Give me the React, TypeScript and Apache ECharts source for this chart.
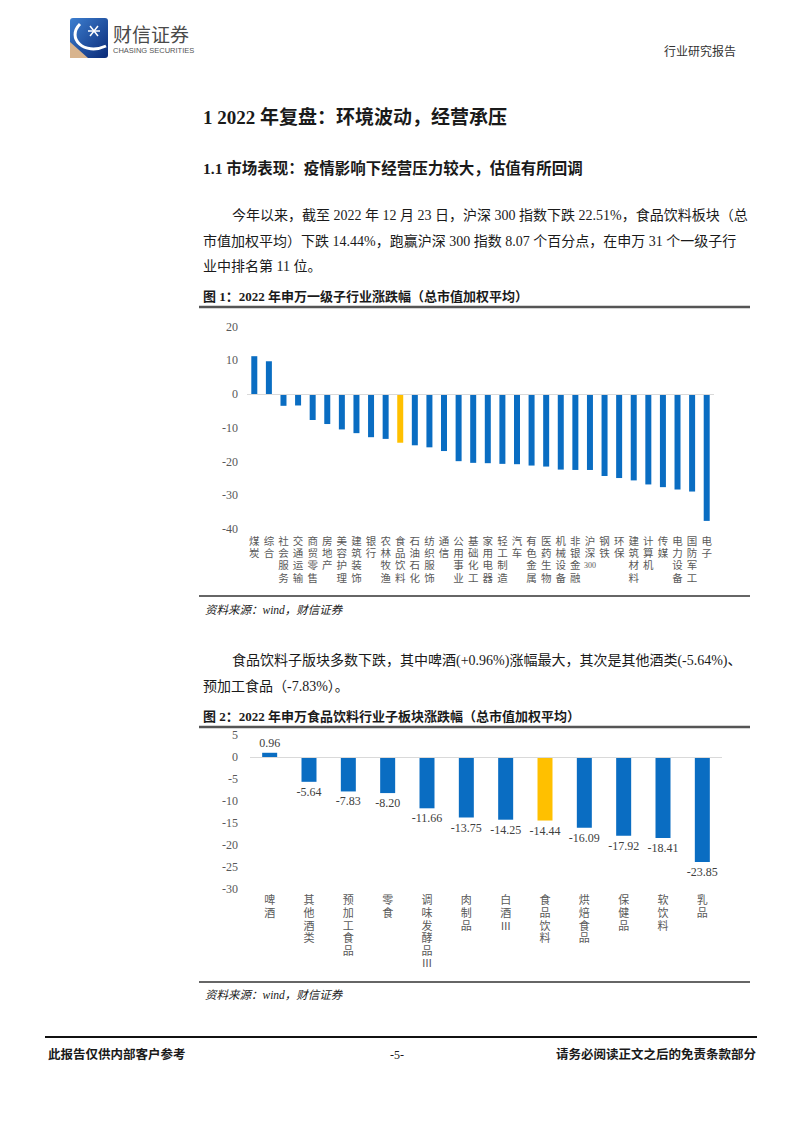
import React, { useEffect, useRef } from "react";
import * as echarts from "echarts";

// ---------- data ----------
const industryNames = [
  "煤炭", "综合", "社会服务", "交通运输", "商贸零售", "房地产", "美容护理", "建筑装饰",
  "银行", "农林牧渔", "食品饮料", "石油石化", "纺织服饰", "通信", "公用事业", "基础化工",
  "家用电器", "轻工制造", "汽车", "有色金属", "医药生物", "机械设备", "非银金融", "沪深300",
  "钢铁", "环保", "建筑材料", "计算机", "传媒", "电力设备", "国防军工", "电子",
];
const industryValues = [
  11.2, 9.7, -3.5, -3.4, -7.7, -8.9, -10.5, -11.6,
  -12.8, -13.3, -14.44, -15.2, -15.8, -16.9, -19.9, -20.4,
  -20.5, -20.7, -20.8, -21.2, -21.5, -22.4, -22.5, -22.51,
  -24.3, -24.9, -25.6, -26.8, -27.6, -28.3, -28.9, -37.6,
];
const industryAxis = { min: -40, max: 20, interval: 10 };

const foodNames = [
  "啤酒", "其他酒类", "预加工食品", "零食", "调味发酵品Ⅲ", "肉制品",
  "白酒Ⅲ", "食品饮料", "烘焙食品", "保健品", "软饮料", "乳品",
];
const foodValues = [0.96, -5.64, -7.83, -8.2, -11.66, -13.75, -14.25, -14.44, -16.09, -17.92, -18.41, -23.85];
const foodAxis = { min: -30, max: 5, interval: 5 };

const highlightName = "食品饮料";

// ---------- texts ----------
const headerRight = "行业研究报告";
const title1 = "1 2022 年复盘：环境波动，经营承压";
const title2 = "1.1 市场表现：疫情影响下经营压力较大，估值有所回调";
const para1 = [
  "今年以来，截至 2022 年 12 月 23 日，沪深 300 指数下跌 22.51%，食品饮料板块（总",
  "市值加权平均）下跌 14.44%，跑赢沪深 300 指数 8.07 个百分点，在申万 31 个一级子行",
  "业中排名第 11 位。",
];
const caption1 = "图 1：2022 年申万一级子行业涨跌幅（总市值加权平均）";
const source = "资料来源：wind，财信证券";
const para2 = [
  "食品饮料子版块多数下跌，其中啤酒(+0.96%)涨幅最大，其次是其他酒类(-5.64%)、",
  "预加工食品（-7.83%）。",
];
const caption2 = "图 2：2022 年申万食品饮料行业子板块涨跌幅（总市值加权平均）";
const footerLeft = "此报告仅供内部客户参考";
const footerMid = "-5-";
const footerRight = "请务必阅读正文之后的免责条款部分";

const BLUE = "#0A6DC2";
const YELLOW = "#FFC000";
const FONT = "'Liberation Serif', 'Noto Sans CJK SC', serif";
const AXIS_GRAY = "#595959";

function vertical(name: string): string {
  const parts = name.match(/[0-9]+|./gu) || [];
  return parts.map((p) => (/^[0-9]+$/.test(p) ? `{n|${p}}` : p)).join("\n");
}

function txt(text: string, x: number, y: number, size: number, opts: any = {}) {
  return {
    type: "text",
    x,
    y,
    silent: true,
    style: {
      text,
      fontSize: size,
      fontFamily: FONT,
      fontWeight: opts.bold ? "bold" : "normal",
      fontStyle: opts.italic ? "italic" : "normal",
      fill: opts.color || "#1a1a1a",
      align: opts.align || "left",
      verticalAlign: "middle",
    },
  };
}

function hline(x1: number, x2: number, y: number, w: number, color: string) {
  return {
    type: "line",
    silent: true,
    shape: { x1, y1: y, x2, y2: y },
    style: { stroke: color, lineWidth: w },
  };
}

export default function App() {
  const ref = useRef<HTMLDivElement>(null);

  useEffect(() => {
    if (!ref.current) return;
    const chart = echarts.init(ref.current, undefined, { renderer: "svg" });

    const graphic: any[] = [
      // logo icon
      {
        type: "rect",
        silent: true,
        shape: { x: 70, y: 18, width: 38, height: 40, r: 3 },
        style: {
          fill: new echarts.graphic.LinearGradient(0, 0, 1, 1, [
            { offset: 0, color: "#3d7fd0" },
            { offset: 1, color: "#0b2b78" },
          ]),
        },
      },
      {
        type: "polygon",
        silent: true,
        shape: { points: [[70, 42], [70, 58], [88, 58]] },
        style: { fill: "#d8b48e" },
      },
      {
        type: "bezierCurve",
        silent: true,
        shape: { x1: 80, y1: 24, cpx1: 66, cpy1: 38, cpx2: 84, cpy2: 56, x2: 106, y2: 46 },
        style: { stroke: "#ffffff", lineWidth: 3, fill: null },
      },
      hline(88, 100, 31, 1.5, "#ffffff"),
      { type: "line", silent: true, shape: { x1: 90, y1: 26, x2: 98, y2: 36 }, style: { stroke: "#fff", lineWidth: 1.5 } },
      { type: "line", silent: true, shape: { x1: 98, y1: 26, x2: 90, y2: 36 }, style: { stroke: "#fff", lineWidth: 1.5 } },
      txt("财信证券", 113, 35, 19, { color: "#4a4a4a" }),
      {
        type: "text",
        x: 113,
        y: 50,
        silent: true,
        style: { text: "CHASING SECURITIES", fontSize: 7.5, fontFamily: "'Liberation Sans', sans-serif", fill: "#555", verticalAlign: "middle" },
      },
      txt(headerRight, 736, 52, 12, { align: "right", color: "#333" }),

      txt(title1, 203, 117, 19, { bold: true }),
      txt(title2, 203, 168, 15.5, { bold: true }),
      txt(para1[0], 232, 215, 14),
      txt(para1[1], 203, 241, 14),
      txt(para1[2], 203, 266, 14),

      txt(caption1, 203, 296, 13, { bold: true }),
      hline(199, 750, 307, 2.5, "#555555"),
      hline(199, 750, 596, 1.5, "#333333"),
      txt(source, 205, 610, 11.5, { italic: true }),

      txt(para2[0], 232, 660, 14),
      txt(para2[1], 203, 686, 14),

      txt(caption2, 203, 716, 13, { bold: true }),
      hline(199, 750, 727, 2.5, "#555555"),
      hline(199, 750, 982, 1.5, "#333333"),
      txt(source, 205, 995, 11.5, { italic: true }),

      hline(45, 757, 1037, 2, "#111111"),
      txt(footerLeft, 48, 1055, 12.5, { bold: true }),
      txt(footerMid, 397, 1055, 12, { align: "center" }),
      txt(footerRight, 756, 1055, 12.5, { bold: true, align: "right" }),
    ];

    const zeroLine = {
      silent: true,
      symbol: ["none", "none"],
      label: { show: false },
      lineStyle: { color: "#d9d9d9", type: "solid", width: 1 },
      data: [{ yAxis: 0 }],
    };

    const option: any = {
      animation: false,
      backgroundColor: "#ffffff",
      graphic,
      grid: [
        { left: 247, right: 88, top: 326.5, height: 202.5, containLabel: false },
        { left: 250, right: 80, top: 735, height: 154, containLabel: false },
      ],
      xAxis: [
        {
          type: "category",
          gridIndex: 0,
          data: industryNames,
          axisLine: { show: false, onZero: false },
          axisTick: { show: false },
          axisLabel: {
            interval: 0,
            margin: 6,
            fontSize: 10.5,
            lineHeight: 12.3,
            fontFamily: FONT,
            color: AXIS_GRAY,
            formatter: (v: string) => vertical(v),
            rich: { n: { fontSize: 8, lineHeight: 12.3, fontFamily: FONT, color: AXIS_GRAY } },
          },
        },
        {
          type: "category",
          gridIndex: 1,
          data: foodNames,
          axisLine: { show: false, onZero: false },
          axisTick: { show: false },
          axisLabel: {
            interval: 0,
            margin: 5,
            fontSize: 11,
            lineHeight: 12.6,
            fontFamily: FONT,
            color: AXIS_GRAY,
            formatter: (v: string) => vertical(v),
          },
        },
      ],
      yAxis: [
        {
          type: "value",
          gridIndex: 0,
          min: industryAxis.min,
          max: industryAxis.max,
          interval: industryAxis.interval,
          axisLine: { show: false },
          axisTick: { show: false },
          splitLine: { show: false },
          axisLabel: { margin: 9, fontSize: 12, fontFamily: FONT, color: AXIS_GRAY },
        },
        {
          type: "value",
          gridIndex: 1,
          min: foodAxis.min,
          max: foodAxis.max,
          interval: foodAxis.interval,
          axisLine: { show: false },
          axisTick: { show: false },
          splitLine: { show: false },
          axisLabel: { margin: 12, fontSize: 12, fontFamily: FONT, color: AXIS_GRAY },
        },
      ],
      series: [
        {
          type: "bar",
          xAxisIndex: 0,
          yAxisIndex: 0,
          barWidth: 6,
          data: industryValues.map((v, i) => ({
            value: v,
            itemStyle: { color: industryNames[i] === highlightName ? YELLOW : BLUE },
          })),
          markLine: zeroLine,
        },
        {
          type: "bar",
          xAxisIndex: 1,
          yAxisIndex: 1,
          barWidth: 15,
          data: foodValues.map((v, i) => ({
            value: v,
            itemStyle: { color: foodNames[i] === highlightName ? YELLOW : BLUE },
            label: { position: v >= 0 ? "top" : "bottom" },
          })),
          label: {
            show: true,
            distance: 4,
            fontSize: 12,
            fontFamily: FONT,
            color: "#404040",
            formatter: (p: any) => Number(p.value).toFixed(2),
          },
          markLine: zeroLine,
        },
      ],
    };

    chart.setOption(option);
    return () => chart.dispose();
  }, []);

  return (
    <div
      ref={ref}
      style={{ position: "absolute", left: 0, top: 0, width: 802, height: 1133, background: "#fff" }}
    />
  );
}
